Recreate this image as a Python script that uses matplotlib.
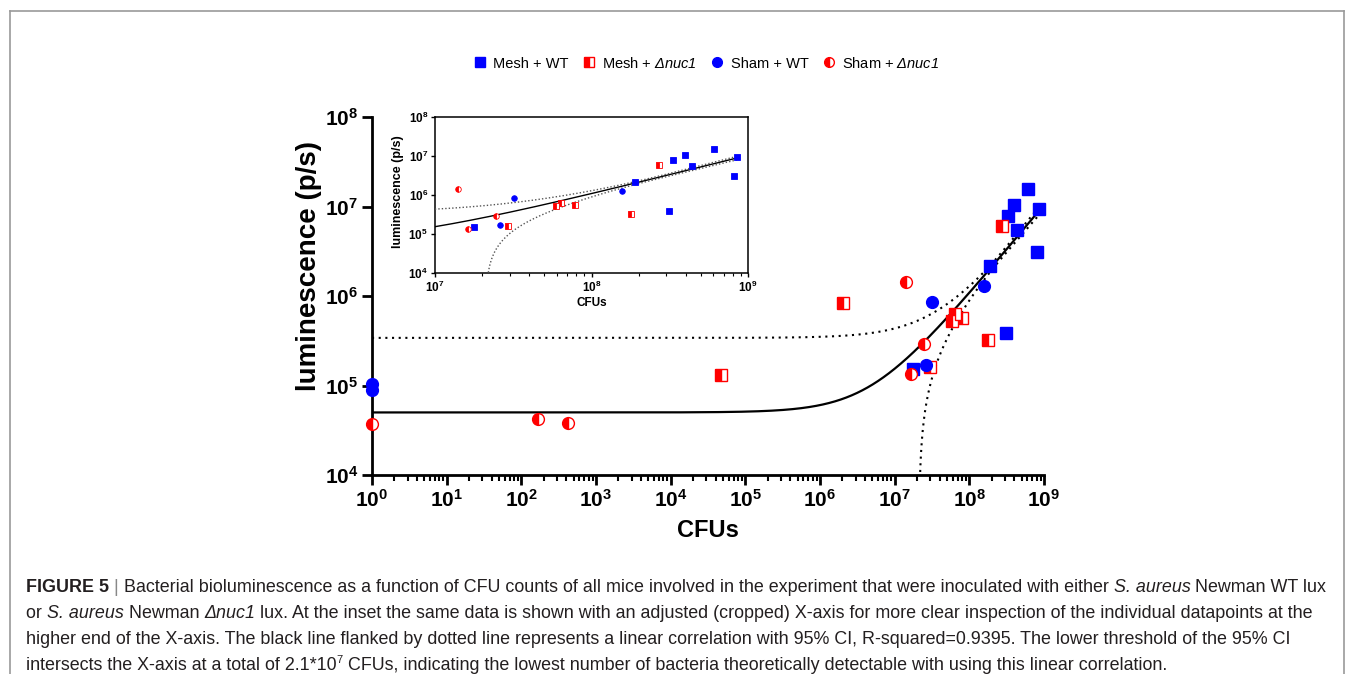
import numpy as np
import matplotlib
matplotlib.use("Agg")
import matplotlib.pyplot as plt
from matplotlib.lines import Line2D
from matplotlib.ticker import LogLocator, FuncFormatter, NullFormatter
from matplotlib.font_manager import FontProperties

plt.rcParams["font.family"] = ["Liberation Sans", "DejaVu Sans"]
plt.rcParams["mathtext.fontset"] = "custom"
# rm is only used for the italic gene name in the legend
plt.rcParams["mathtext.rm"] = "Liberation Sans:italic"
plt.rcParams["mathtext.it"] = "Liberation Sans:italic"
plt.rcParams["mathtext.bf"] = "Liberation Sans:bold"

# data (CFUs, luminescence p/s)
mesh_wt_cfu = [1.78e7, 1.90e8, 3.13e8, 3.30e8, 3.96e8, 4.40e8, 6.04e8, 8.10e8, 8.47e8]
mesh_wt_lum = [1.51e5, 2.15e6, 3.90e5, 7.90e6, 1.04e7, 5.50e6, 1.55e7, 3.10e6, 9.40e6]

mesh_nuc_cfu = [4.7e4, 2.06e6, 2.94e7, 5.90e7, 6.34e7, 7.90e7, 1.80e8, 2.70e8]
mesh_nuc_lum = [1.31e5, 8.40e5, 1.60e5, 5.20e5, 6.35e5, 5.65e5, 3.20e5, 6.00e6]

sham_wt_cfu = [1, 1, 2.61e7, 3.18e7, 1.56e8]
sham_wt_lum = [1.05e5, 9.0e4, 1.70e5, 8.55e5, 1.29e6]

sham_nuc_cfu = [1, 1.66e2, 4.17e2, 1.40e7, 1.63e7, 2.45e7]
sham_nuc_lum = [3.7e4, 4.26e4, 3.84e4, 1.43e6, 1.34e5, 2.90e5]

# linear regression and 95% CI band as drawn in the figure
FIT_INTERCEPT = 5.0e4
FIT_SLOPE = 1.04e-2
CI_CENTER = 1.79e8
CI_MIN_HALF = 1.69e5
CI_SPREAD = 1.32e-3
FIT_XMAX = 8.5e8

fit_x = np.logspace(0, np.log10(FIT_XMAX), 6000)
fit_y = FIT_INTERCEPT + FIT_SLOPE * fit_x
half = np.sqrt(CI_MIN_HALF ** 2 + CI_SPREAD ** 2 * (fit_x - CI_CENTER) ** 2)
ci_hi = fit_y + half
ci_lo = fit_y - half
ci_lo = np.where(ci_lo > 0, ci_lo, np.nan)

series = [
    (mesh_wt_cfu, mesh_wt_lum, "s", "full", "Mesh + WT"),
    (mesh_nuc_cfu, mesh_nuc_lum, "s", "left", r"Mesh + $\mathrm{Δnuc1}$"),
    (sham_wt_cfu, sham_wt_lum, "o", "full", "Sham + WT"),
    (sham_nuc_cfu, sham_nuc_lum, "o", "left", r"Sham + $\mathrm{Δnuc1}$"),
]
colors = ["#0000ff", "#ff0000", "#0000ff", "#ff0000"]

W, H = 1355, 674
fig = plt.figure(figsize=(W / 100, H / 100), dpi=100)


def pow_label(v, pos):
    return r"$\mathbf{10^{%d}}$" % int(round(np.log10(v)))


def draw_points(ax, ms, mew):
    for (xs, ys, mk, fill, lab), c in zip(series, colors):
        ax.plot(xs, ys, ls="", marker=mk, ms=ms, color=c, fillstyle=fill,
                markerfacecoloralt="white", markeredgecolor=c,
                markeredgewidth=mew, clip_on=False, zorder=5)


# main axes
ax = fig.add_axes([372 / W, 1 - 475 / H, (1044 - 372) / W, (475 - 117) / H])
ax.plot(fit_x, fit_y, color="black", lw=1.6, zorder=3)
ax.plot(fit_x, ci_hi, color="black", lw=1.5, ls=(0, (1, 2.2)), zorder=3)
ax.plot(fit_x, ci_lo, color="black", lw=1.5, ls=(0, (1, 2.2)), zorder=3)
draw_points(ax, 8.5, 1.0)

ax.set_xscale("log")
ax.set_yscale("log")
ax.set_xlim(1, 1e9)
ax.set_ylim(1e4, 1e8)
for s in ["top", "right"]:
    ax.spines[s].set_visible(False)
for s in ["left", "bottom"]:
    ax.spines[s].set_linewidth(2)
ax.xaxis.set_major_locator(LogLocator(base=10, numticks=20))
ax.xaxis.set_minor_locator(LogLocator(base=10, subs=np.arange(2, 10), numticks=20))
ax.xaxis.set_minor_formatter(NullFormatter())
ax.yaxis.set_major_locator(LogLocator(base=10, numticks=20))
ax.yaxis.set_minor_locator(plt.NullLocator())
ax.xaxis.set_major_formatter(FuncFormatter(pow_label))
ax.yaxis.set_major_formatter(FuncFormatter(pow_label))
ax.tick_params(which="major", length=7, width=2, labelsize=15, pad=3)
ax.tick_params(which="minor", length=4, width=1.5)
ax.set_xlabel("CFUs", fontsize=17, fontweight="bold", labelpad=6)
ax.set_ylabel("luminescence (p/s)", fontsize=20, fontweight="bold")
ax.yaxis.set_label_coords(-50 / 672, 0.584)

# inset
ax2 = fig.add_axes([435 / W, 1 - 273 / H, 313 / W, 156 / H])
ax2.plot(fit_x, fit_y, color="black", lw=1.0, zorder=3)
ax2.plot(fit_x, ci_hi, color="#555555", lw=1.0, ls=(0, (1, 1.5)), zorder=3)
ax2.plot(fit_x, ci_lo, color="#555555", lw=1.0, ls=(0, (1, 1.5)), zorder=3)
draw_points(ax2, 4.0, 0.6)
for c in ax2.lines:
    c.set_clip_on(True)
ax2.set_xscale("log")
ax2.set_yscale("log")
ax2.set_xlim(1e7, 1e9)
ax2.set_ylim(1e4, 1e8)
for s in ax2.spines.values():
    s.set_linewidth(1.1)
ax2.xaxis.set_major_locator(LogLocator(base=10, numticks=10))
ax2.xaxis.set_minor_locator(LogLocator(base=10, subs=np.arange(2, 10), numticks=10))
ax2.xaxis.set_minor_formatter(NullFormatter())
ax2.yaxis.set_major_locator(LogLocator(base=10, numticks=10))
ax2.yaxis.set_minor_locator(plt.NullLocator())
ax2.xaxis.set_major_formatter(FuncFormatter(pow_label))
ax2.yaxis.set_major_formatter(FuncFormatter(pow_label))
ax2.tick_params(which="major", length=3, width=1, labelsize=8.5, pad=2)
ax2.tick_params(which="minor", length=1.8, width=0.8)
ax2.set_xlabel("CFUs", fontsize=8.5, fontweight="bold", labelpad=1)
ax2.set_ylabel("luminescence (p/s)", fontsize=9, fontweight="bold")
ax2.yaxis.set_label_coords(-31 / 313, 0.52)

# legend
handles = []
for (xs, ys, mk, fill, lab), c in zip(series, colors):
    handles.append(Line2D([], [], ls="", marker=mk, ms=7, color=c, fillstyle=fill,
                          markerfacecoloralt="white", markeredgecolor=c, markeredgewidth=1))
fig.legend(handles, [s[4] for s in series], loc="center",
           bbox_to_anchor=(706 / W, 1 - 63 / H), ncol=4, frameon=False,
           fontsize=10.5, handletextpad=0.4, columnspacing=0.9, handlelength=1.0)

# frame around the figure
frame_kw = dict(color="#9a9a9a", lw=1.2, transform=fig.transFigure)
fig.add_artist(Line2D([10 / W, 10 / W], [0, 1 - 10.5 / H], **frame_kw))
fig.add_artist(Line2D([10 / W, 1344 / W], [1 - 10.5 / H, 1 - 10.5 / H], **frame_kw))
fig.add_artist(Line2D([1344 / W, 1344 / W], [0, 1 - 10.5 / H], **frame_kw))

# caption
cap_family = "Liberation Sans"
cap_size = 12.85
cap_color = "#231f20"
norm = dict(style="normal", weight="normal", color=cap_color)
ital = dict(style="italic", weight="normal", color=cap_color)
bold = dict(style="normal", weight="bold", color=cap_color)
bar = dict(style="normal", weight="normal", color="#888888")

caption_lines = [
    [("FIGURE 5", bold), (" | ", bar),
     ("Bacterial bioluminescence as a function of CFU counts of all mice involved in the "
      "experiment that were inoculated with either ", norm),
     ("S. aureus", ital), (" Newman WT lux", norm)],
    [("or ", norm), ("S. aureus", ital), (" Newman ", norm), ("Δnuc1", ital),
     (" lux. At the inset the same data is shown with an adjusted (cropped) X-axis for more "
      "clear inspection of the individual datapoints at the", norm)],
    [("higher end of the X-axis. The black line flanked by dotted line represents a linear "
      "correlation with 95% CI, R-squared=0.9395. The lower threshold of the 95% CI", norm)],
    [("intersects the X-axis at a total of 2.1*10", norm), ("7", dict(norm, sup=True)),
     (" CFUs, indicating the lowest number of bacteria theoretically detectable with using "
      "this linear correlation.", norm)],
]
baselines = [592, 618, 644, 670]

renderer = fig.canvas.get_renderer()


def seg_width(s, fp):
    w1, _, _ = renderer.get_text_width_height_descent("x" + s + "x", fp, ismath=False)
    w0, _, _ = renderer.get_text_width_height_descent("xx", fp, ismath=False)
    return w1 - w0


for parts, yb in zip(caption_lines, baselines):
    xp = 26.0
    for txt, style in parts:
        st = dict(style)
        sup = st.pop("sup", False)
        size = cap_size * 0.62 if sup else cap_size
        yy = yb - 7 if sup else yb
        fp = FontProperties(family=cap_family, style=st["style"], weight=st["weight"], size=size)
        fig.text(xp / W, 1 - yy / H, txt, fontproperties=fp, color=st["color"], va="baseline")
        xp += seg_width(txt, fp)

fig.savefig("out.png", dpi=100)
